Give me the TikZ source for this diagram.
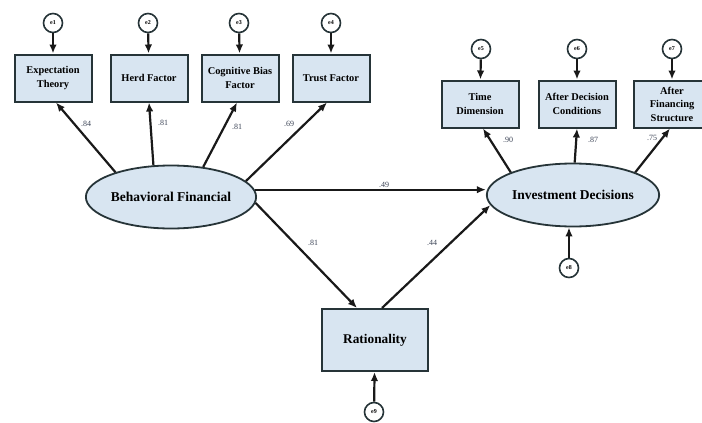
\documentclass[tikz,border=0pt]{standalone}
\usepackage{fontspec}
\setmainfont{Liberation Serif}
\usetikzlibrary{shapes.geometric,arrows.meta}
\definecolor{boxfill}{RGB}{216,229,241}
\definecolor{edgecol}{RGB}{38,52,56}
\definecolor{coefcol}{RGB}{60,68,86}
\tikzstyle{obs}=[draw=edgecol,line width=2pt,fill=boxfill,minimum width=77pt,minimum height=47pt,align=center,inner sep=1pt,font=\bfseries\fontsize{10.4}{13.5}\selectfont]
\tikzstyle{lat}=[ellipse,draw=edgecol,line width=1.8pt,fill=boxfill,minimum width=156pt,minimum height=63pt,inner sep=0pt,font=\bfseries\fontsize{13.5}{15}\selectfont]
\tikzstyle{err}=[circle,draw=edgecol,line width=1.6pt,fill=white,minimum size=19pt,inner sep=0pt,font=\bfseries\fontsize{6}{6}\selectfont]
\tikzstyle{arr}=[draw=black!90,line width=2.2pt,-{Latex[length=9pt,width=7.5pt]}]
\tikzstyle{coef}=[inner sep=0pt,text=coefcol,font=\fontsize{8}{8}\selectfont]

\begin{document}
\begin{tikzpicture}[x=1pt,y=-1pt]
	\useasboundingbox (0,0) rectangle (702,423);
	%latent variables
	\node[lat] (bf) at (171,197) {Behavioral Financial};
	\node[lat] (id) at (573,195) {Investment Decisions};
	%indicators
	\node[obs] (x1) at (53,78) {Expectation\\Theory};
	\node[obs] (x2) at (149,78) {Herd Factor};
	\node[obs] (x3) at (240,78) {Cognitive Bias\\Factor};
	\node[obs] (x4) at (331,78) {Trust Factor};
	\node[obs] (y1) at (480,104) {Time\\Dimension};
	\node[obs] (y2) at (577,104) {After Decision\\Conditions};
	\node[obs] (y3) at (672,104) {After\\Financing\\Structure};
	\node[obs, minimum width=106pt, minimum height=62pt, font=\bfseries\fontsize{13.3}{15}\selectfont] (rat) at (375,340) {Rationality};
	%errors
	\foreach \e/\x/\y in {1/53/23, 2/148/23, 3/239/23, 4/331/23,
		5/481/49, 6/577/49, 7/672/49, 8/569/268, 9/374/412}
	\node[err] (e\e) at (\x,\y) {e\e};
	\foreach \e/\t in {1/x1, 2/x2, 3/x3, 4/x4, 5/y1, 6/y2, 7/y3, 9/rat}
	\draw[arr] (e\e) -- (\t);
	\draw[arr] (e8) -- (e8 |- id.south);
	%loadings
	\draw[arr] (bf.156) -- ([xshift=3pt]x1.south);
	\draw[arr] (bf.119) -- (x2.south);
	\draw[arr] (bf.43) -- ([xshift=-3pt]x3.south);
	\draw[arr] (bf.12) -- ([xshift=-4pt]x4.south);
	\draw[arr] (id.160) -- ([xshift=3pt]y1.south);
	\draw[arr] (id.87) -- (y2.south);
	\draw[arr] (id.20) -- ([xshift=-2pt]y3.south);
	%structural paths
	\draw[arr] (bf.5) -- (bf.5 -| id.west);
	\draw[arr] (bf.-4) -- ([xshift=-18pt]rat.north);
	\draw[arr] ([xshift=7pt]rat.north) -- (id.187);
	%coefficients
	\foreach \n/\x/\y/\c in {1/86/124/.84, 2/163/123/.81, 3/237/127/.81, 4/289/124/.69,
		5/508/140/.90, 6/593/140/.87, 7/652/138/.75,
		8/384/185/.49, 9/313/243/.81, 10/432/243/.44}
	\node[coef] (c\n) at (\x,\y) {\c};
\end{tikzpicture}
\end{document}
